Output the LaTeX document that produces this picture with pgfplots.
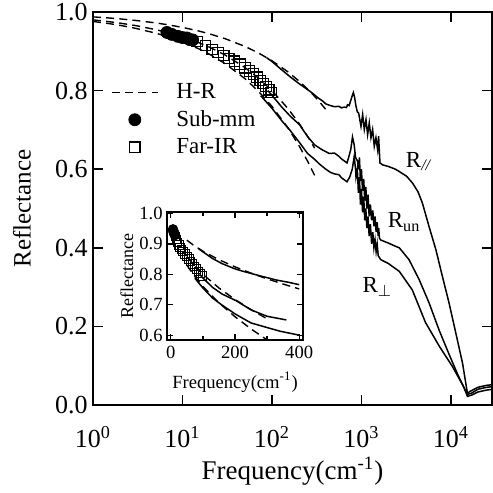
\documentclass[border=0pt]{standalone}
\usepackage{fontspec}
\setmainfont{Liberation Serif}
\usepackage{pgfplots}
\usepackage{pgfplotstable}
\usetikzlibrary{calc}
\pgfplotsset{compat=1.18}

\pgfplotstableread{
w R
87 0.884
100 0.874
130 0.852
160 0.835
200 0.818
225 0.810
278 0.795
330 0.781
366 0.774
400 0.766
450 0.762
500 0.759
560 0.760
600 0.756
640 0.758
680 0.757
700 0.764
730 0.762
760 0.775
790 0.787
813 0.795
840 0.782
870 0.760
900 0.746
931 0.743
989 0.709
1032 0.739
1077 0.701
1125 0.726
1173 0.688
1224 0.718
1278 0.680
1334 0.701
1392 0.658
1453 0.680
1517 0.650
1556 0.684
1611 0.616
1725 0.611
2000 0.607
2400 0.600
2650 0.594
3200 0.582
3720 0.565
4300 0.542
4800 0.514
5700 0.454
6800 0.395
8040 0.327
9550 0.259
11350 0.183
13500 0.106
15300 0.030
16500 0.035
20000 0.045
25000 0.050
30000 0.052
}\Rpar

\pgfplotstableread{
w R
90 0.800
100 0.788
130 0.757
160 0.735
204 0.713
250 0.683
300 0.662
360 0.650
437 0.640
500 0.641
560 0.633
600 0.626
690 0.616
720 0.630
760 0.650
795 0.682
830 0.662
860 0.630
907 0.620
930 0.600
950 0.630
975 0.570
1000 0.600
1030 0.545
1060 0.575
1090 0.520
1120 0.555
1150 0.500
1185 0.535
1220 0.480
1260 0.510
1300 0.470
1340 0.495
1380 0.455
1420 0.480
1460 0.440
1500 0.465
1540 0.430
1560 0.450
1590 0.425
1640 0.420
2000 0.412
2450 0.403
2650 0.400
3400 0.370
4400 0.320
5700 0.260
7400 0.190
9500 0.130
11800 0.080
14600 0.035
15300 0.027
17000 0.030
20000 0.040
25000 0.045
30000 0.047
}\Run

\pgfplotstableread{
w R
75 0.787
100 0.755
130 0.722
158 0.700
200 0.670
250 0.640
300 0.625
340 0.613
400 0.600
450 0.592
500 0.588
560 0.586
600 0.578
690 0.568
740 0.580
790 0.600
830 0.632
860 0.600
870 0.580
900 0.600
925 0.540
950 0.580
975 0.510
1000 0.550
1030 0.490
1060 0.530
1090 0.470
1120 0.500
1150 0.450
1185 0.480
1220 0.430
1260 0.460
1300 0.410
1340 0.440
1380 0.400
1420 0.420
1460 0.390
1500 0.410
1540 0.380
1590 0.375
1640 0.370
2000 0.360
2650 0.340
3700 0.293
5200 0.210
7400 0.150
10400 0.098
14000 0.045
15300 0.022
17000 0.025
20000 0.033
25000 0.038
30000 0.040
}\Rperp

\pgfplotstableread{
w a b c
1 0.9876 0.9800 0.9760
1.5 0.9848 0.9755 0.9706
2 0.9825 0.9717 0.9661
3 0.9785 0.9654 0.9584
5 0.9723 0.9553 0.9463
7 0.9672 0.9471 0.9365
10 0.9608 0.9368 0.9241
15 0.9520 0.9225 0.9070
20 0.9445 0.9106 0.8927
30 0.9321 0.8905 0.8685
50 0.9123 0.8586 0.8303
70 0.8963 0.8327 0.7992
100 0.8760 0.8000 0.7600
150 0.8481 0.7551 0.7061
200 0.8246 0.7172 0.6606
250 0.8039 0.6838 0.6205
300 0.7852 0.6536 0.5843
350 0.7680 nan nan
400 0.7520 nan nan
}\HR

\pgfplotstableread{
w R
6.7 0.948
7.6 0.943
8.9 0.938
10.0 0.935
11.2 0.934
12.0 0.930
13.0 0.929
}\Sub

\pgfplotstableread{
w R
14.5 0.925
18 0.915
21.5 0.905
25 0.897
29 0.889
33 0.882
38 0.875
44 0.867
50 0.858
56 0.850
62 0.842
68 0.834
74 0.826
80 0.818
86 0.810
92 0.802
98 0.795
}\FIR

\begin{document}
\begin{tikzpicture}
\pgfplotsset{
  hr/.style={black, line width=0.7pt, dash pattern=on 4pt off 2.6pt},
  dat/.style={black, line width=0.75pt},
}
\begin{axis}[
  name=main, at={(0,0)}, anchor=south west,
  scale only axis, width=199.5pt, height=196.5pt,
  xmode=log, xmin=1, xmax=28800, ymin=0, ymax=1,
  xtick={1,10,100,1000,10000},
  xticklabels={10\textsuperscript{0},10\textsuperscript{1},10\textsuperscript{2},10\textsuperscript{3},10\textsuperscript{4}},
  xminorticks=false,
  ytick={0,0.2,0.4,0.6,0.8,1.0},
  /pgf/number format/assume math mode=true,
  yticklabel style={/pgf/number format/fixed, /pgf/number format/fixed zerofill, /pgf/number format/precision=1, inner sep=1pt, xshift=-1.5pt},
  xticklabel style={anchor=base, yshift=-21pt},
  tick label style={font=\fontsize{13}{15}\selectfont},
  major tick length=5pt,
  axis line style={line width=0.9pt},
  every tick/.style={black, line width=0.8pt},
  legend style={draw=none, fill=none, at={(0.045,0.83)}, anchor=north west, font=\fontsize{11.5}{13}\selectfont, row sep=0.5pt, column sep=7pt, inner sep=0pt},
  legend cell align=left,
  legend image code/.code={\draw[mark repeat=2,mark phase=2] plot coordinates {(0cm,0cm) (0.4cm,0cm) (0.8cm,0cm)};},
  clip=true,
]
\addplot[hr] table[x=w,y=a] {\HR};
\addlegendentry{H-R}
\addplot[only marks, mark=*, mark size=3pt, black] table[x=w,y=R] {\Sub};
\addlegendentry{Sub-mm}
\addplot[only marks, mark=square, mark size=2.6pt, black, mark options={line width=0.6pt}] table[x=w,y=R] {\FIR};
\addlegendentry{Far-IR}
\addplot[hr, forget plot] table[x=w,y=b] {\HR};
\addplot[hr, forget plot] table[x=w,y=c] {\HR};
\addplot[dat, forget plot] table[x=w,y=R] {\Rpar};
\addplot[dat, forget plot] table[x=w,y=R] {\Run};
\addplot[dat, forget plot] table[x=w,y=R] {\Rperp};
\node[font=\fontsize{11.5}{14}\selectfont] at (axis cs:4420,0.619) {R\textsubscript{\textit{//}}};
\node[font=\fontsize{11.5}{14}\selectfont] at (axis cs:3000,0.466) {R\textsubscript{un}};
\node[font=\fontsize{11.5}{14}\selectfont] at (axis cs:1510,0.300) {R\textsubscript{$\perp$}};
\end{axis}
\node[anchor=base, font=\fontsize{13.5}{15}\selectfont] at ($(main.south)+(0,-37.5pt)$) {Frequency(cm\textsuperscript{-1})};
\node[rotate=90, anchor=center, font=\fontsize{12.5}{14}\selectfont] at ($(main.west)+(-35.5pt,0)$) {Reflectance};

\begin{axis}[
  name=inset, at={($(main.south west)+(37pt,32.5pt)$)}, anchor=south west,
  scale only axis, width=68pt, height=64pt,
  xmin=-12, xmax=412, ymin=0.584, ymax=1.005,
  xtick={0,200,400}, minor xtick={100,300},
  ytick={0.6,0.7,0.8,0.9,1.0},
  /pgf/number format/assume math mode=true,
  yticklabel style={/pgf/number format/fixed, /pgf/number format/fixed zerofill, /pgf/number format/precision=1, inner sep=1pt, xshift=-1pt},
  xticklabel style={inner sep=1pt, yshift=-2pt},
  tick label style={font=\fontsize{9.3}{11}\selectfont},
  major tick length=3pt, minor tick length=2pt,
  axis line style={line width=0.8pt},
  every tick/.style={black, line width=0.6pt},
  axis background/.style={fill=white},
]
\addplot[hr, restrict x to domain=40:410] table[x=w,y=a] {\HR};
\addplot[hr, restrict x to domain=40:410] table[x=w,y=b] {\HR};
\addplot[hr, restrict x to domain=40:410] table[x=w,y=c] {\HR};
\addplot[only marks, mark=*, mark size=2.4pt, black] table[x=w,y=R] {\Sub};
\addplot[only marks, mark=square, mark size=2.1pt, black, mark options={line width=0.5pt}] table[x=w,y=R] {\FIR};
\addplot[dat, restrict x to domain=0:420] table[x=w,y=R] {\Rpar};
\addplot[dat, restrict x to domain=0:420] table[x=w,y=R] {\Run};
\addplot[dat, restrict x to domain=0:420] table[x=w,y=R] {\Rperp};
\end{axis}
\node[anchor=base, font=\fontsize{9.3}{11}\selectfont] at ($(inset.south)+(0,-24pt)$) {Frequency(cm\textsuperscript{-1})};
\node[rotate=90, anchor=center, font=\fontsize{9}{11}\selectfont] at ($(inset.west)+(-20pt,0)$) {Reflectance};
\pgfresetboundingbox
\path[use as bounding box] ($(main.south west)+(-46.5pt,-44pt)$) rectangle ($(main.north east)+(0.5pt,6pt)$);
\end{tikzpicture}
\end{document}
